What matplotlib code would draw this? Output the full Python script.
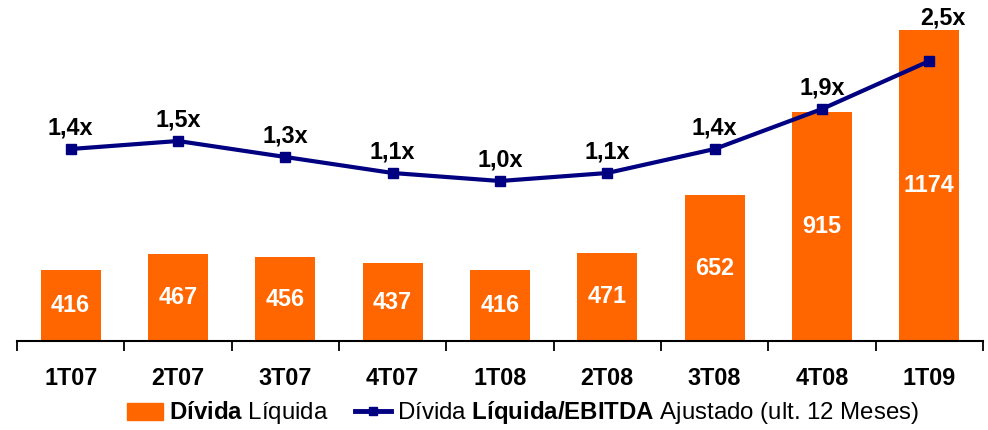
import numpy as np
import matplotlib.pyplot as plt

plt.rcParams['font.family'] = ['Liberation Sans', 'DejaVu Sans']
plt.rcParams['mathtext.fontset'] = 'custom'
plt.rcParams['mathtext.rm'] = 'Liberation Sans'
plt.rcParams['mathtext.bf'] = 'Liberation Sans:bold'

quarters = ["1T07", "2T07", "3T07", "4T07", "1T08", "2T08", "3T08", "4T08", "1T09"]
divida = [416, 467, 456, 437, 416, 471, 652, 915, 1174]
alavancagem = [1.4, 1.5, 1.3, 1.1, 1.0, 1.1, 1.4, 1.9, 2.5]
alav_labels = ["1,4x", "1,5x", "1,3x", "1,1x", "1,0x", "1,1x", "1,4x", "1,9x", "2,5x"]

ORANGE = "#FF6600"
NAVY = "#000080"
FS = 16.8
Y0 = 191.7  # bar axis floor

fig = plt.figure(figsize=(9.88, 4.30), dpi=100)
ax = fig.add_axes([17/988, 1 - 341/430, 966/988, 336/430])
x = np.arange(len(quarters))

bars = ax.bar(x, np.array(divida) - Y0, bottom=Y0, width=0.56, color=ORANGE, zorder=2)
ax.bar_label(bars, labels=[str(v) for v in divida], label_type="center",
             color="white", fontsize=FS, fontweight="bold")
ax.set_xlim(-0.5, len(quarters) - 0.5)
ax.set_ylim(Y0, Y0 + 336/0.3166)

for s in ["top", "left", "right"]:
    ax.spines[s].set_visible(False)
ax.spines["bottom"].set_linewidth(1.5)
ax.set_yticks([])
ax.set_xticks(x)
ax.set_xticklabels(quarters, fontsize=FS, fontweight="bold")
ax.tick_params(axis="x", which="major", length=0, pad=19)
ax.set_xticks(np.arange(len(quarters) + 1) - 0.5, minor=True)
ax.tick_params(axis="x", which="minor", length=7, width=1.3, direction="out")

ax2 = ax.twinx()
ax2.set_ylim(-1.0, 3.2)
for s in ax2.spines.values():
    s.set_visible(False)
ax2.set_yticks([])
ax2.plot(x, alavancagem, color=NAVY, linewidth=3, marker="s", markersize=6.5, zorder=3)
offsets = [(0, 7)] * 8 + [(10, 23)]
for xi, v, lab, off in zip(x, alavancagem, alav_labels, offsets):
    ax2.annotate(lab, (xi, v), xytext=off, textcoords="offset points",
                 ha="center", va="bottom", fontsize=FS, fontweight="bold")

h1 = plt.Rectangle((0, 0), 1, 1, color=ORANGE)
h2 = plt.Line2D([], [], color=NAVY, linewidth=3.5, marker="s", markersize=6)
fig.legend([h1, h2],
           [r"$\mathbf{Dívida}$ Líquida",
            r"Dívida $\mathbf{Líquida/EBITDA}$ Ajustado (ult. 12 Meses)"],
           loc="center", bbox_to_anchor=(523/988, 1 - 413/430), ncol=2,
           frameon=False, fontsize=17.3, handlelength=1.5, handletextpad=0.25,
           columnspacing=1.1, borderpad=0)

fig.savefig("out.png", dpi=100)
